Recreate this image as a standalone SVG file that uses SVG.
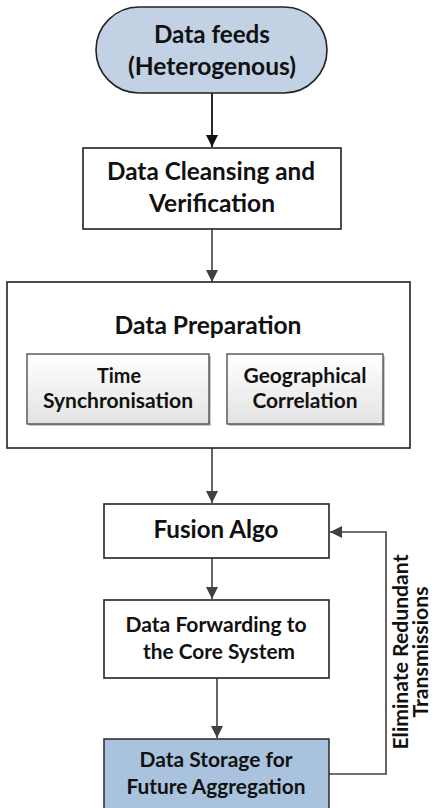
<svg xmlns="http://www.w3.org/2000/svg" width="435" height="808" viewBox="0 0 435 808">
<defs>
<style>
text{font-family:Lato,"Liberation Sans",sans-serif;font-weight:bold;fill:#111;text-anchor:middle}
.box{fill:#fff;stroke:#222;stroke-width:1.6}
.sub{fill:url(#g);stroke:#444;stroke-width:1.3}
.shadow{fill:#c9c9c9}
.ln{fill:none;stroke:#404040;stroke-width:1.6}
.lk{fill:none;stroke:#111;stroke-width:1.8}
.t22{font-size:24px}
.t19{font-size:21px}
.t18{font-size:20.5px}
</style>
<linearGradient id="g" x1="0" y1="0" x2="0" y2="1">
<stop offset="0" stop-color="#ffffff"/>
<stop offset="1" stop-color="#e3e3e3"/>
</linearGradient>
<marker id="ak" markerWidth="12" markerHeight="12" refX="12" refY="6" orient="auto" markerUnits="userSpaceOnUse">
<path d="M0,0 L12,6 L0,12 Z" fill="#111"/>
</marker>
<marker id="ag" markerWidth="12" markerHeight="12" refX="12" refY="6" orient="auto" markerUnits="userSpaceOnUse">
<path d="M0,0 L12,6 L0,12 Z" fill="#404040"/>
</marker>
</defs>

<g id="connectors">
<line class="lk" x1="212" y1="93" x2="212" y2="147" marker-end="url(#ak)"/>
<line class="ln" x1="212" y1="229" x2="212" y2="282" marker-end="url(#ag)"/>
<line class="ln" x1="212" y1="448" x2="212" y2="503" marker-end="url(#ag)"/>
<line class="ln" x1="212" y1="558" x2="212" y2="599" marker-end="url(#ag)"/>
<line class="ln" x1="217" y1="678" x2="217" y2="738" marker-end="url(#ag)"/>
<polyline class="ln" points="329,774 386,774 386,532 330,532" marker-end="url(#ag)"/>
<text class="t19" transform="translate(408,652) rotate(-90)" textLength="195" lengthAdjust="spacingAndGlyphs">Eliminate Redundant</text>
<text class="t19" transform="translate(428,652) rotate(-90)" textLength="131" lengthAdjust="spacingAndGlyphs">Transmissions</text>
</g>

<g id="data-feeds">
<rect x="96" y="7" width="231" height="86" rx="43" ry="43" fill="#c2d1e4" stroke="#222" stroke-width="1.6"/>
<text class="t22" x="212" y="43" textLength="116" lengthAdjust="spacingAndGlyphs">Data feeds</text>
<text class="t22" x="212" y="75" textLength="168" lengthAdjust="spacingAndGlyphs">(Heterogenous)</text>
</g>

<g id="cleansing">
<rect class="box" x="83" y="148" width="258" height="81"/>
<text class="t22" x="211" y="180" textLength="208" lengthAdjust="spacingAndGlyphs">Data Cleansing and</text>
<text class="t22" x="212" y="212" textLength="126" lengthAdjust="spacingAndGlyphs">Verification</text>
</g>

<g id="preparation">
<rect class="box" x="7" y="282" width="403" height="166"/>
<text class="t22" x="208" y="334" textLength="187" lengthAdjust="spacingAndGlyphs">Data Preparation</text>
</g>

<g id="time-sync">
<rect class="shadow" x="29" y="356" width="182" height="70"/>
<rect class="sub" x="27" y="354" width="182" height="70"/>
<text class="t18" x="119" y="383" textLength="44" lengthAdjust="spacingAndGlyphs">Time</text>
<text class="t18" x="118" y="408" textLength="150" lengthAdjust="spacingAndGlyphs">Synchronisation</text>
</g>

<g id="geo-corr">
<rect class="shadow" x="229" y="356" width="156" height="70"/>
<rect class="sub" x="227" y="354" width="156" height="70"/>
<text class="t18" x="305" y="383" textLength="123" lengthAdjust="spacingAndGlyphs">Geographical</text>
<text class="t18" x="305" y="408" textLength="105" lengthAdjust="spacingAndGlyphs">Correlation</text>
</g>

<g id="fusion">
<rect class="box" x="104" y="504" width="225" height="54"/>
<text class="t22" x="216" y="538" textLength="125" lengthAdjust="spacingAndGlyphs">Fusion Algo</text>
</g>

<g id="forwarding">
<rect class="box" x="104" y="600" width="225" height="78"/>
<text class="t19" x="216" y="632" textLength="181" lengthAdjust="spacingAndGlyphs">Data Forwarding to</text>
<text class="t19" x="219" y="659" textLength="152" lengthAdjust="spacingAndGlyphs">the Core System</text>
</g>

<g id="storage">
<rect x="104" y="739" width="225" height="70" fill="#a9c3df" stroke="#333" stroke-width="1.6"/>
<text class="t19" x="216" y="767" textLength="153" lengthAdjust="spacingAndGlyphs">Data Storage for</text>
<text class="t19" x="216" y="794" textLength="179" lengthAdjust="spacingAndGlyphs">Future Aggregation</text>
</g>
</svg>
